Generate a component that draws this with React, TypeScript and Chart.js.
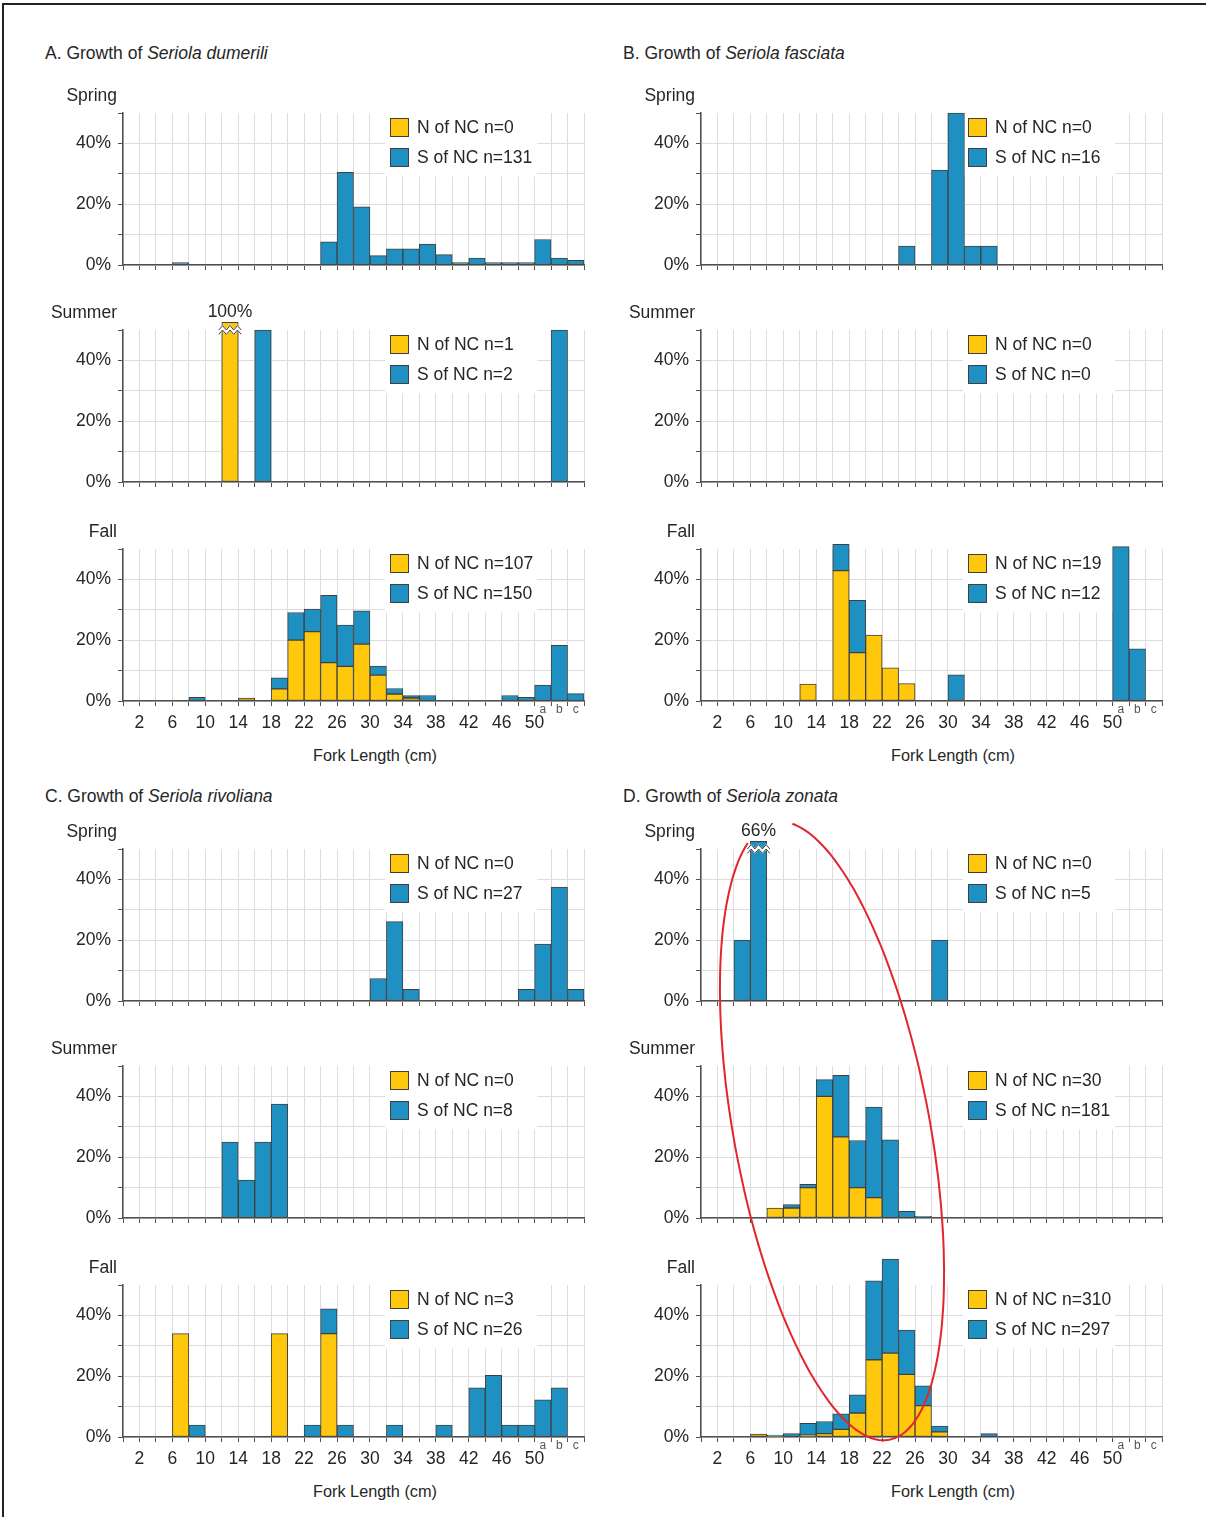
import React, { useEffect, useRef } from 'react';
import { Chart, registerables } from 'chart.js';

Chart.register(...registerables);

// ---------------- style constants ----------------
const FONT = '"Liberation Sans", Arial, Helvetica, sans-serif';
const YELLOW = '#FFC80C';
const BLUE = '#1F90C2';
const EDGE = '#404040';
const GRID = '#DDDDDD';
const AXIS = '#505050';
const TEXT = '#262626';

// ---------------- data ----------------
// x bins: 0..24 are 2-cm classes (0-2, 2-4, ..., 48-50 cm); 25..27 are classes a, b, c
const SERIES_NAMES = ['N of NC', 'S of NC'];
const SEASONS = ['Spring', 'Summer', 'Fall'];
const BOUNDARY_LABELS = ['2', '6', '10', '14', '18', '22', '26', '30', '34', '38', '42', '46', '50'];
const EXTRA_BINS = ['a', 'b', 'c'];
const Y_TICKS = [0, 10, 20, 30, 40, 50];
const Y_LABELED = [0, 20, 40];
const Y_MAX = 50;
const BREAK_AT = 60; // values above this are drawn truncated with an axis-break mark
const BREAK_SHOW = 52.5;

// A. Seriola dumerili
const A_SPRING_N = [0, 0, 0, 0, 0, 0, 0, 0, 0, 0, 0, 0, 0, 0, 0, 0, 0, 0, 0, 0, 0, 0, 0, 0, 0, 0, 0, 0];
const A_SPRING_S = [0, 0, 0, 0.8, 0, 0, 0, 0, 0, 0, 0, 0, 7.6, 30.5, 19.1, 3.1, 5.3, 5.3, 6.9, 3.4, 0.8, 2.3, 0.8, 0.8, 0.8, 8.4, 2.3, 1.5];
const A_SUMMER_N = [0, 0, 0, 0, 0, 0, 100, 0, 0, 0, 0, 0, 0, 0, 0, 0, 0, 0, 0, 0, 0, 0, 0, 0, 0, 0, 0, 0];
const A_SUMMER_S = [0, 0, 0, 0, 0, 0, 0, 0, 50, 0, 0, 0, 0, 0, 0, 0, 0, 0, 0, 0, 0, 0, 0, 0, 0, 0, 50, 0];
const A_FALL_N = [0, 0, 0, 0, 0, 0, 0, 1.0, 0, 4.0, 20.0, 22.8, 12.6, 11.4, 18.7, 8.5, 2.3, 1.0, 0, 0, 0, 0, 0, 0, 0, 0, 0, 0];
const A_FALL_S = [0, 0, 0, 0, 1.2, 0, 0, 0, 0, 3.6, 9.1, 7.4, 22.2, 13.6, 11.0, 3.0, 1.8, 0.8, 1.8, 0, 0, 0, 0, 1.8, 1.2, 5.2, 18.3, 2.4];
const A_COUNTS = [[0, 131], [1, 2], [107, 150]];

// B. Seriola fasciata
const B_SPRING_N = [0, 0, 0, 0, 0, 0, 0, 0, 0, 0, 0, 0, 0, 0, 0, 0, 0, 0, 0, 0, 0, 0, 0, 0, 0, 0, 0, 0];
const B_SPRING_S = [0, 0, 0, 0, 0, 0, 0, 0, 0, 0, 0, 0, 6.25, 0, 31.25, 50, 6.25, 6.25, 0, 0, 0, 0, 0, 0, 0, 0, 0, 0];
const B_SUMMER_N = [0, 0, 0, 0, 0, 0, 0, 0, 0, 0, 0, 0, 0, 0, 0, 0, 0, 0, 0, 0, 0, 0, 0, 0, 0, 0, 0, 0];
const B_SUMMER_S = [0, 0, 0, 0, 0, 0, 0, 0, 0, 0, 0, 0, 0, 0, 0, 0, 0, 0, 0, 0, 0, 0, 0, 0, 0, 0, 0, 0];
const B_FALL_N = [0, 0, 0, 0, 0, 0, 5.6, 0, 42.9, 15.9, 21.7, 10.9, 5.7, 0, 0, 0, 0, 0, 0, 0, 0, 0, 0, 0, 0, 0, 0, 0];
const B_FALL_S = [0, 0, 0, 0, 0, 0, 0, 0, 8.6, 17.2, 0, 0, 0, 0, 0, 8.6, 0, 0, 0, 0, 0, 0, 0, 0, 0, 50.8, 17.2, 0];
const B_COUNTS = [[0, 16], [0, 0], [19, 12]];

// C. Seriola rivoliana
const C_SPRING_N = [0, 0, 0, 0, 0, 0, 0, 0, 0, 0, 0, 0, 0, 0, 0, 0, 0, 0, 0, 0, 0, 0, 0, 0, 0, 0, 0, 0];
const C_SPRING_S = [0, 0, 0, 0, 0, 0, 0, 0, 0, 0, 0, 0, 0, 0, 0, 7.4, 26.1, 3.8, 0, 0, 0, 0, 0, 0, 3.8, 18.7, 37.5, 3.8];
const C_SUMMER_N = [0, 0, 0, 0, 0, 0, 0, 0, 0, 0, 0, 0, 0, 0, 0, 0, 0, 0, 0, 0, 0, 0, 0, 0, 0, 0, 0, 0];
const C_SUMMER_S = [0, 0, 0, 0, 0, 0, 25, 12.5, 25, 37.5, 0, 0, 0, 0, 0, 0, 0, 0, 0, 0, 0, 0, 0, 0, 0, 0, 0, 0];
const C_FALL_N = [0, 0, 0, 34, 0, 0, 0, 0, 0, 34, 0, 0, 34, 0, 0, 0, 0, 0, 0, 0, 0, 0, 0, 0, 0, 0, 0, 0];
const C_FALL_S = [0, 0, 0, 0, 3.9, 0, 0, 0, 0, 0, 0, 3.9, 8.2, 3.9, 0, 0, 3.9, 0, 0, 3.9, 0, 16.2, 20.3, 3.9, 3.9, 12.2, 16.2, 0];
const C_COUNTS = [[0, 27], [0, 8], [3, 26]];

// D. Seriola zonata
const D_SPRING_N = [0, 0, 0, 0, 0, 0, 0, 0, 0, 0, 0, 0, 0, 0, 0, 0, 0, 0, 0, 0, 0, 0, 0, 0, 0, 0, 0, 0];
const D_SPRING_S = [0, 0, 20, 66, 0, 0, 0, 0, 0, 0, 0, 0, 0, 0, 20, 0, 0, 0, 0, 0, 0, 0, 0, 0, 0, 0, 0, 0];
const D_SUMMER_N = [0, 0, 0, 0, 3.3, 3.3, 10, 40, 26.7, 10, 6.7, 0, 0, 0, 0, 0, 0, 0, 0, 0, 0, 0, 0, 0, 0, 0, 0, 0];
const D_SUMMER_S = [0, 0, 0, 0, 0, 1.1, 1.1, 5.5, 20.2, 15.5, 29.8, 25.7, 2.2, 0.55, 0, 0, 0, 0, 0, 0, 0, 0, 0, 0, 0, 0, 0, 0];
const D_FALL_N = [0, 0, 0, 1.0, 0.3, 0, 0.6, 1.1, 2.5, 7.9, 25.4, 27.6, 20.6, 10.3, 1.7, 0, 0, 0, 0, 0, 0, 0, 0, 0, 0, 0, 0, 0];
const D_FALL_S = [0, 0, 0, 0, 0.3, 1.1, 3.9, 4.0, 5.1, 6.0, 26.0, 30.9, 14.6, 6.5, 1.9, 0, 0, 1.1, 0, 0, 0, 0, 0, 0, 0, 0, 0, 0];
const D_COUNTS = [[0, 5], [30, 181], [310, 297]];

const PANELS = [
  { letter: 'A', species: 'Seriola dumerili', col: 0, row: 0, series: [[A_SPRING_N, A_SPRING_S], [A_SUMMER_N, A_SUMMER_S], [A_FALL_N, A_FALL_S]], counts: A_COUNTS },
  { letter: 'B', species: 'Seriola fasciata', col: 1, row: 0, series: [[B_SPRING_N, B_SPRING_S], [B_SUMMER_N, B_SUMMER_S], [B_FALL_N, B_FALL_S]], counts: B_COUNTS },
  { letter: 'C', species: 'Seriola rivoliana', col: 0, row: 1, series: [[C_SPRING_N, C_SPRING_S], [C_SUMMER_N, C_SUMMER_S], [C_FALL_N, C_FALL_S]], counts: C_COUNTS },
  { letter: 'D', species: 'Seriola zonata', col: 1, row: 1, series: [[D_SPRING_N, D_SPRING_S], [D_SUMMER_N, D_SUMMER_S], [D_FALL_N, D_FALL_S]], counts: D_COUNTS },
];

// ---------------- layout ----------------
const COL_LEFT = [123, 701];
const ROW_TOPS = [[113, 330, 549], [849, 1066, 1285]];
const TITLE_Y = [53, 796];
const PLOT_W = 461;
const PLOT_H = 152;
const Y_AXIS_W = 83;
const PAD_TOP = 40;
const PAD_RIGHT = 16;
const LEG_X = 262;
const LEG_W = 152;
const LEG_H = 63;
const SERIES_COLORS = [YELLOW, BLUE];

const ELLIPSE_C = [832, 1131];
const ELLIPSE_R = [98, 314];
const ELLIPSE_ROT = -10.5;
const ELLIPSE_T = [-80, 252];

function Subplot({ plotLeft, plotTop, nVals, sVals, counts, fall }) {
  const ref = useRef(null);
  const xh = fall ? 40 : 22;
  const W = Y_AXIS_W + PLOT_W + PAD_RIGHT;
  const H = PAD_TOP + PLOT_H + xh;

  useEffect(() => {
    const raw = [nVals, sVals];
    const toPoints = (vals) => vals.map((v, i) => ({ x: i + 0.5, y: v > BREAK_AT ? BREAK_SHOW : v }));
    const nBins = nVals.length;

    const overlay = {
      id: 'panelOverlay',
      beforeDatasetsDraw(chart) {
        const { ctx, chartArea } = chart;
        ctx.save();
        ctx.fillStyle = '#ffffff';
        ctx.fillRect(chartArea.left + LEG_X, chartArea.top + 0.5, LEG_W, LEG_H);
        ctx.restore();
      },
      afterDatasetsDraw(chart) {
        const { ctx, chartArea } = chart;
        ctx.save();
        const lx = chartArea.left + LEG_X;
        SERIES_NAMES.forEach((name, k) => {
          const sy = chartArea.top + 5 + k * 30;
          ctx.fillStyle = SERIES_COLORS[k];
          ctx.fillRect(lx + 5, sy, 19, 19);
          ctx.strokeStyle = EDGE;
          ctx.lineWidth = 1;
          ctx.strokeRect(lx + 5.5, sy + 0.5, 18, 18);
          ctx.fillStyle = TEXT;
          ctx.font = `17.5px ${FONT}`;
          ctx.textBaseline = 'middle';
          ctx.textAlign = 'left';
          ctx.fillText(`${name} n=${counts[k]}`, lx + 32, sy + 10);
        });
        // axis-break marks for truncated bars
        const yb = chart.scales.y.getPixelForValue(Y_MAX);
        raw.forEach((vals, di) => {
          const meta = chart.getDatasetMeta(di);
          vals.forEach((v, i) => {
            if (v <= BREAK_AT) return;
            const bar = meta.data[i];
            const x0 = bar.x - bar.width / 2 - 3;
            const x1 = bar.x + bar.width / 2 + 3;
            const n = 6;
            const zig = (off) => {
              ctx.beginPath();
              for (let j = 0; j <= n; j++) {
                const xx = x0 + (j * (x1 - x0)) / n;
                const yy = yb + off + (j % 2 ? -2.2 : 2.2);
                if (j === 0) ctx.moveTo(xx, yy); else ctx.lineTo(xx, yy);
              }
              ctx.stroke();
            };
            ctx.strokeStyle = '#ffffff';
            ctx.lineWidth = 4;
            zig(0);
            ctx.strokeStyle = EDGE;
            ctx.lineWidth = 1;
            zig(-2.2);
            zig(2.2);
            ctx.fillStyle = TEXT;
            ctx.font = `17.5px ${FONT}`;
            ctx.textAlign = 'center';
            ctx.textBaseline = 'alphabetic';
            ctx.fillText(`${v}%`, bar.x, bar.y - 5);
          });
        });
        ctx.restore();
      },
      afterDraw(chart) {
        if (!fall) return;
        const { ctx } = chart;
        const xs = chart.scales.x;
        ctx.save();
        ctx.fillStyle = '#555555';
        ctx.font = `12px ${FONT}`;
        ctx.textAlign = 'center';
        ctx.textBaseline = 'middle';
        EXTRA_BINS.forEach((lab, k) => {
          const bin = nBins - EXTRA_BINS.length + k;
          ctx.fillText(lab, xs.getPixelForValue(bin + 0.5), xs.top + 9);
        });
        ctx.restore();
      },
    };

    const labelAt = {};
    BOUNDARY_LABELS.forEach((lab) => { labelAt[Number(lab) / 2] = lab; });

    const chart = new Chart(ref.current, {
      type: 'bar',
      data: {
        datasets: raw.map((vals, k) => ({
          label: SERIES_NAMES[k],
          data: toPoints(vals),
          backgroundColor: SERIES_COLORS[k],
          borderColor: EDGE,
          borderWidth: 1,
          borderSkipped: false,
          stack: 'bins',
          clip: false,
          barPercentage: 1,
          categoryPercentage: 1,
        })),
      },
      options: {
        responsive: false,
        maintainAspectRatio: false,
        animation: false,
        events: [],
        layout: { padding: { top: PAD_TOP, right: PAD_RIGHT, left: 0, bottom: 0 } },
        plugins: { legend: { display: false }, tooltip: { enabled: false } },
        scales: {
          x: {
            type: 'linear',
            min: 0,
            max: nBins,
            offset: false,
            grid: { offset: false, color: GRID, lineWidth: 1, drawTicks: true, tickLength: 5, tickColor: AXIS, tickWidth: 1 },
            border: { color: AXIS, width: 1.5 },
            ticks: {
              display: !!fall,
              autoSkip: false,
              maxRotation: 0,
              minRotation: 0,
              padding: 7,
              color: TEXT,
              font: { family: FONT, size: 17.5 },
              callback: (v) => (labelAt[v] !== undefined ? labelAt[v] : ''),
            },
            afterBuildTicks: (s) => {
              s.ticks = Array.from({ length: nBins + 1 }, (_, i) => ({ value: i }));
            },
            afterFit: (s) => { s.height = xh; },
          },
          y: {
            type: 'linear',
            min: 0,
            max: Y_MAX,
            stacked: true,
            grid: {
              color: (c) => (c.tick && c.tick.value >= Y_MAX ? 'rgba(0,0,0,0)' : GRID),
              lineWidth: 1,
              drawTicks: true,
              tickLength: 5,
              tickColor: AXIS,
              tickWidth: 1,
            },
            border: { color: AXIS, width: 1.5 },
            ticks: {
              padding: 7,
              color: TEXT,
              font: { family: FONT, size: 17.5 },
              callback: (v) => (Y_LABELED.includes(v) ? `${v}%` : ''),
            },
            afterBuildTicks: (s) => { s.ticks = Y_TICKS.map((v) => ({ value: v })); },
            afterFit: (s) => { s.width = Y_AXIS_W; },
          },
        },
      },
      plugins: [overlay],
    });
    return () => chart.destroy();
  }, []);

  return (
    <canvas
      ref={ref}
      width={W}
      height={H}
      style={{ position: 'absolute', left: plotLeft - Y_AXIS_W, top: plotTop - PAD_TOP, width: W, height: H }}
    />
  );
}

function Label({ x, y, align, size, children }) {
  const tx = align === 'right' ? '-100%' : align === 'center' ? '-50%' : '0';
  return (
    <div
      style={{
        position: 'absolute',
        left: x,
        top: y,
        transform: `translate(${tx}, -50%)`,
        whiteSpace: 'nowrap',
        fontSize: size,
        lineHeight: 1.15,
        fontFamily: FONT,
        color: TEXT,
      }}
    >
      {children}
    </div>
  );
}

function ellipsePoints() {
  const pts = [];
  const phi = (ELLIPSE_ROT * Math.PI) / 180;
  for (let t = ELLIPSE_T[0]; t <= ELLIPSE_T[1]; t += 2) {
    const r = (t * Math.PI) / 180;
    const lx = ELLIPSE_R[0] * Math.cos(r);
    const ly = ELLIPSE_R[1] * Math.sin(r);
    const x = ELLIPSE_C[0] + lx * Math.cos(phi) - ly * Math.sin(phi);
    const y = ELLIPSE_C[1] + lx * Math.sin(phi) + ly * Math.cos(phi);
    pts.push(`${x.toFixed(1)},${y.toFixed(1)}`);
  }
  return pts.join(' ');
}

export default function App() {
  return (
    <div style={{ position: 'absolute', left: 0, top: 0, width: 1206, height: 1517, overflow: 'hidden', background: '#ffffff' }}>
      <div style={{ position: 'absolute', left: 2, top: 3, width: 1300, height: 1600, borderTop: '2px solid #222', borderLeft: '2px solid #222' }} />
      {PANELS.map((p) => {
        const plotLeft = COL_LEFT[p.col];
        const tops = ROW_TOPS[p.row];
        return (
          <React.Fragment key={p.letter}>
            {p.series.map(([nVals, sVals], si) => (
              <Subplot
                key={si}
                plotLeft={plotLeft}
                plotTop={tops[si]}
                nVals={nVals}
                sVals={sVals}
                counts={p.counts[si]}
                fall={si === 2}
              />
            ))}
            <Label x={plotLeft - 78} y={TITLE_Y[p.row]} align="left" size={17.5}>
              {p.letter}. Growth of <i>{p.species}</i>
            </Label>
            {SEASONS.map((s, si) => (
              <Label key={s} x={plotLeft - 6} y={tops[si] - 18} align="right" size={17.5}>
                {s}
              </Label>
            ))}
            <Label x={plotLeft + 252} y={tops[2] + PLOT_H + 54} align="center" size={16.3}>
              Fork Length (cm)
            </Label>
          </React.Fragment>
        );
      })}
      <svg width={1206} height={1517} style={{ position: 'absolute', left: 0, top: 0, pointerEvents: 'none' }}>
        <polyline points={ellipsePoints()} fill="none" stroke="#E3262B" strokeWidth={2} strokeLinejoin="round" />
      </svg>
    </div>
  );
}
